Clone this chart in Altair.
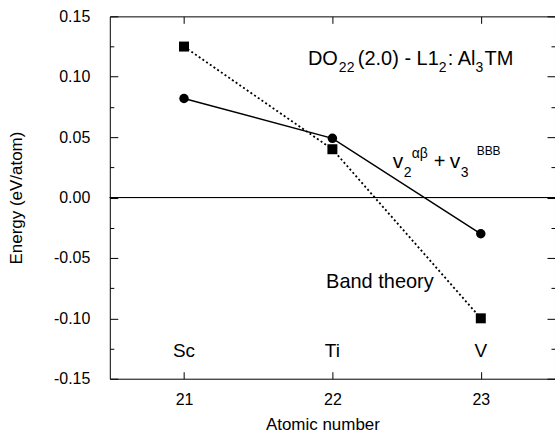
import altair as alt
import pandas as pd

# ---- data ----
atomic_numbers = [21, 22, 23]
elements = ["Sc", "Ti", "V"]
band_theory = [0.125, 0.040, -0.100]
pair_triplet = [0.082, 0.049, -0.030]

x_tick_values = [21, 22, 23]
y_label_values = [-0.15, -0.10, -0.05, 0.00, 0.05, 0.10, 0.15]
y_minor_values = [-0.125, -0.075, -0.025, 0.025, 0.075, 0.125]

df = pd.DataFrame({"Z": atomic_numbers, "element": elements,
                   "band": band_theory, "pair": pair_triplet})

W, H = 446, 363
FONT = "Liberation Sans"
xs = alt.Scale(domain=[20.5, 23.5], nice=False, zero=False)
ys = alt.Scale(domain=[-0.15, 0.15], nice=False, zero=False)


def tick_axis(orient, offset, values, size):
    # axis used only for its inward-pointing ticks
    return alt.Axis(orient=orient, offset=offset, values=values, labels=False,
                    title=None, domain=False, grid=False, ticks=True,
                    tickSize=size, tickColor="black", tickWidth=1)


axis_x_main = alt.Axis(values=x_tick_values, format="d", title="Atomic number",
                       ticks=False, tickSize=0, domain=False, grid=False,
                       labelFontSize=16, labelPadding=13, labelFont=FONT,
                       labelColor="black", titleFontSize=17, titlePadding=9,
                       titleX=213, titleFont=FONT, titleColor="black",
                       titleFontWeight="normal")
axis_y_main = alt.Axis(values=y_label_values,
                       labelExpr="datum.value < 0 ? '-' + format(-datum.value, '.2f') : format(datum.value, '.2f')",
                       title="Energy (eV/atom)", ticks=False, tickSize=0,
                       domain=False, grid=False, labelFontSize=16, labelPadding=20,
                       labelFont=FONT, labelColor="black", titleFontSize=17,
                       titlePadding=28, titleFont=FONT, titleColor="black",
                       titleFontWeight="normal")

base = alt.Chart(df)

band_line = base.mark_line(color="black", strokeWidth=1.8, strokeDash=[2, 2.5]).encode(
    x=alt.X("Z:Q", scale=xs, axis=axis_x_main),
    y=alt.Y("band:Q", scale=ys, axis=axis_y_main),
)
pair_line = base.mark_line(color="black", strokeWidth=1.5).encode(
    x=alt.X("Z:Q", scale=xs, axis=tick_axis("top", -H, x_tick_values, 7)),
    y=alt.Y("pair:Q", scale=ys, axis=tick_axis("right", -W, y_label_values, 8)),
)
squares = base.mark_point(shape="square", filled=True, color="black", size=100, opacity=1).encode(
    x=alt.X("Z:Q", scale=xs, axis=tick_axis("bottom", -H, x_tick_values, 7)),
    y=alt.Y("band:Q", scale=ys, axis=tick_axis("right", -W, y_minor_values, 4)),
)
circles = base.mark_point(shape="circle", filled=True, color="black", size=90, opacity=1).encode(
    x=alt.X("Z:Q", scale=xs, axis=None),
    y=alt.Y("pair:Q", scale=ys, axis=tick_axis("left", -W, y_label_values, 8)),
)
element_labels = base.mark_text(font=FONT, fontSize=19, color="black",
                                align="center", baseline="alphabetic").encode(
    x=alt.X("Z:Q", scale=xs, axis=None),
    y=alt.YDatum(-0.132, scale=ys, axis=tick_axis("left", -W, y_minor_values, 4)),
    text="element:N",
)
zero_rule = base.mark_rule(color="black", strokeWidth=1).encode(
    y=alt.YDatum(0, scale=ys, axis=None)
)


def piece(txt, x, y, size, dx=0, dy=0, align="left"):
    return alt.Chart(pd.DataFrame({"t": [txt]})).mark_text(
        font=FONT, fontSize=size, color="black", align=align,
        baseline="alphabetic", dx=dx, dy=dy,
    ).encode(
        x=alt.XDatum(x, scale=xs, axis=None),
        y=alt.YDatum(y, scale=ys, axis=None),
        text="t:N",
    )


# "DO22 (2.0) - L12: Al3TM"
ax, ay = 21.835, 0.1095
title_pieces = [
    piece("DO", ax, ay, 20),
    piece("22", ax, ay, 14, dx=31, dy=7),
    piece("(2.0) - L1", ax, ay, 20, dx=50),
    piece("2", ax, ay, 14, dx=131, dy=7),
    piece(": Al", ax, ay, 20, dx=140),
    piece("3", ax, ay, 14, dx=168, dy=7),
    piece("TM", ax, ay, 20, dx=177),
]

# "v2^αβ + v3^BBB"
vx, vy = 22.407, 0.0244
model_pieces = [
    piece("v", vx, vy, 21),
    piece("2", vx, vy, 14, dx=11, dy=9),
    piece("αβ", vx, vy, 14, dx=19, dy=-10),
    piece("+", vx, vy, 20, dx=41),
    piece("v", vx, vy, 21, dx=57),
    piece("3", vx, vy, 14, dx=68, dy=9),
    piece("BBB", vx, vy, 12, dx=84, dy=-13),
]

band_label = piece("Band theory", 22.32, -0.0748, 20, align="center")

chart = alt.layer(
    band_line, pair_line, squares, circles, element_labels, zero_rule,
    *title_pieces, *model_pieces, band_label,
).resolve_axis(
    x="independent", y="independent"
).properties(
    width=W, height=H,
    padding={"left": 110, "top": 16, "right": 0, "bottom": 63},
    autosize=alt.AutoSizeParams(type="none"),
    background="white",
).configure_view(
    stroke="black", strokeWidth=1
)

chart.save("out.html", embed_options={"renderer": "svg", "actions": False})
